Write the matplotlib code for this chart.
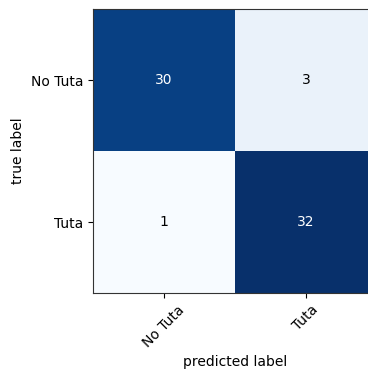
import numpy as np
import matplotlib
matplotlib.use("Agg")
import matplotlib.pyplot as plt

classes = ["No Tuta", "Tuta"]
cm = np.array([[30, 3],
               [1, 32]])

fig = plt.figure(figsize=(3.68, 3.70), dpi=100)
ax = fig.add_axes([93 / 368, 77 / 370, 284 / 368, 284 / 370])
ax.imshow(cm, interpolation="nearest", cmap=plt.cm.Blues, aspect="auto")

ticks = np.arange(len(classes))
ax.set_xticks(ticks)
ax.set_xticklabels(classes, rotation=45)
ax.set_yticks(ticks)
ax.set_yticklabels(classes)

thresh = cm.max() / 2.0
for i in range(cm.shape[0]):
    for j in range(cm.shape[1]):
        ax.text(j, i, format(cm[i, j], "d"), ha="center", va="center",
                color="white" if cm[i, j] > thresh else "black", fontsize=10)

ax.set_ylabel("true label")
ax.set_xlabel("predicted label")
for s in ax.spines.values():
    s.set_color("#333333")

fig.savefig("out.png", dpi=100)
